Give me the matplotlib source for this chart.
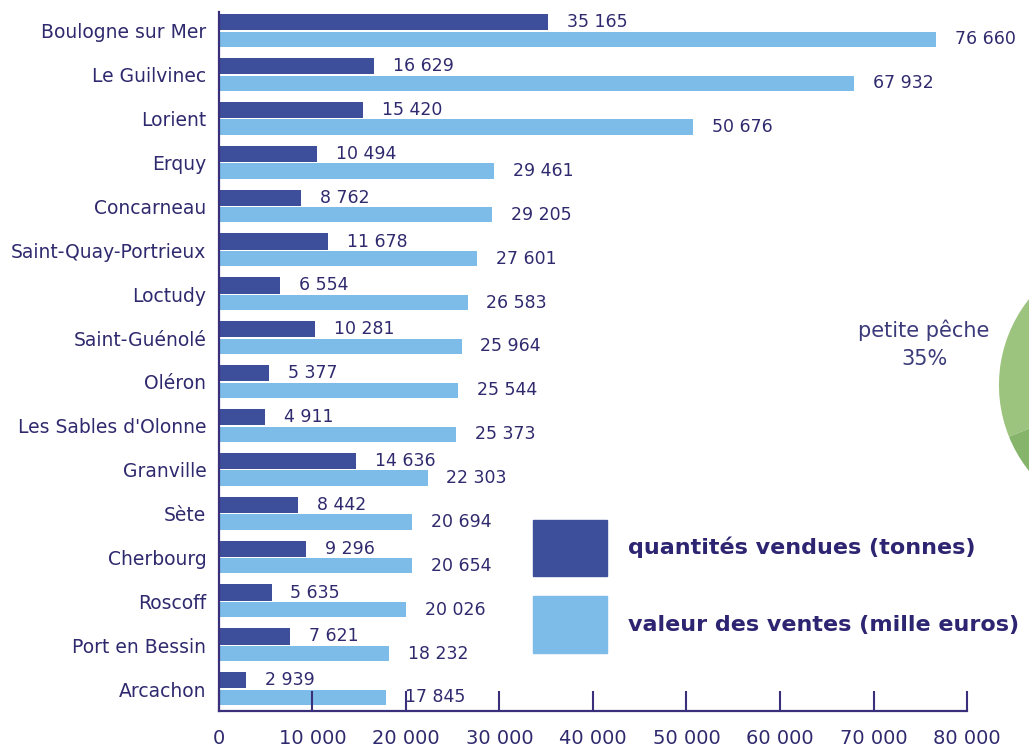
import numpy as np
import matplotlib
matplotlib.use("Agg")
import matplotlib.pyplot as plt
from matplotlib.patches import Patch

# données
ports = ["Boulogne sur Mer", "Le Guilvinec", "Lorient", "Erquy", "Concarneau",
         "Saint-Quay-Portrieux", "Loctudy", "Saint-Guénolé", "Oléron",
         "Les Sables d'Olonne", "Granville", "Sète", "Cherbourg", "Roscoff",
         "Port en Bessin", "Arcachon"]
quantites = [35165, 16629, 15420, 10494, 8762, 11678, 6554, 10281, 5377,
             4911, 14636, 8442, 9296, 5635, 7621, 2939]
valeurs = [76660, 67932, 50676, 29461, 29205, 27601, 26583, 25964, 25544,
           25373, 22303, 20694, 20654, 20026, 18232, 17845]
ticks = [0, 10000, 20000, 30000, 40000, 50000, 60000, 70000, 80000]
pie_parts = [35, 65]

dark = "#3d4f9b"
light = "#7dbce8"
navy = "#2f2a6e"
plt.rcParams['font.family'] = ['DejaVu Sans']


def fmt(v):
    return f"{v:,}".replace(",", " ")


fig = plt.figure(figsize=(10.29, 7.49), dpi=100)
ax = fig.add_axes([0.2128, 0.0507, 0.7872, 0.9333])

y = np.arange(len(ports))
b1 = ax.barh(y - 0.2, quantites, height=0.37, color=dark)
b2 = ax.barh(y + 0.19, valeurs, height=0.35, color=light)

for bars, vals in ((b1, quantites), (b2, valeurs)):
    for rect, v in zip(bars, vals):
        ax.annotate(fmt(v), (rect.get_width(), rect.get_y() + rect.get_height() / 2),
                    xytext=(13.5, 0), textcoords="offset points",
                    ha="left", va="center", fontsize=12.5, color=navy)

ax.set_ylim(15.5, -0.433)
ax.set_xlim(0, 86630)
ax.set_yticks(y)
ax.set_yticklabels(ports, fontsize=13.5, color=navy)
ax.tick_params(axis="y", length=0, pad=9)
ax.set_xticks(ticks)
ax.set_xticklabels([fmt(t) for t in ticks], fontsize=14, color=navy)
ax.tick_params(axis="x", direction="in", length=14.5, width=1.5, color="#3a2f7a", pad=13)

for s in ("top", "right"):
    ax.spines[s].set_visible(False)
for s in ("left", "bottom"):
    ax.spines[s].set_color("#3a2f7a")
    ax.spines[s].set_linewidth(1.6)
ax.spines["bottom"].set_bounds(0, 80000)

# légende
handles = [Patch(color=dark, label="quantités vendues (tonnes)"),
           Patch(color=light, label="valeur des ventes (mille euros)")]
leg = fig.legend(handles=handles, loc="upper left", bbox_to_anchor=(0.518, 0.306),
                 frameon=False, prop={"weight": "heavy", "size": 16},
                 handlelength=3.33, handleheight=3.53, labelspacing=0.9,
                 handletextpad=0.95, borderpad=0, borderaxespad=0)
for t in leg.get_texts():
    t.set_color("#2d2572")

# camembert partiel à droite
pax = fig.add_axes([0.9708, 0.3017, 0.2682, 0.3685])
pax.pie(pie_parts, colors=["#9dc47f", "#87b46b"], startangle=76, counterclock=True,
        radius=1)
pax.set_xlim(-1, 1)
pax.set_ylim(-1, 1)
pax.set_aspect("equal")
pax.axis("off")

fig.text(0.898, 0.5407, "petite pêche\n35%", ha="center", va="center",
         fontsize=15, color="#3b3a7a", linespacing=1.5)

fig.savefig("out.png", dpi=100)
